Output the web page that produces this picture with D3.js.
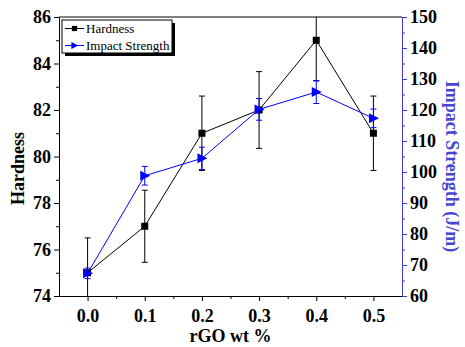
<!DOCTYPE html>
<html>
<head>
<meta charset="utf-8">
<script src="https://cdn.jsdelivr.net/npm/d3@7"></script>
<style>
  body { margin: 0; background: #fff; }
  svg text { font-family: 'Liberation Serif', 'Times New Roman', 'DejaVu Serif', serif; }
</style>
</head>
<body>
<svg id="chart" width="465" height="347"></svg>
<script>
const rgo = [0.0, 0.1, 0.2, 0.3, 0.4, 0.5];
const hardness = [75, 77, 81, 82, 85, 81];
const hardnessErr = [1.5, 1.55, 1.6, 1.65, 1.75, 1.6];
const impact = [67.3, 98.8, 104.4, 120.2, 125.8, 117.3];
const impactErr = [1.7, 3, 3.6, 3.5, 3.7, 3];
const xTicks = [0.0, 0.1, 0.2, 0.3, 0.4, 0.5];
const hTicks = [74, 76, 78, 80, 82, 84, 86];
const iTicks = [60, 70, 80, 90, 100, 110, 120, 130, 140, 150];

const BLUE = '#0000ff';
const BLUE_AXIS = '#3c3cdc';
const BLUE_TITLE = '#4646d2';

const margin = { top: 17, right: 63, bottom: 51, left: 59 };
const W = 465, H = 347;
const w = W - margin.left - margin.right;
const h = H - margin.top - margin.bottom;

const svg = d3.select('#chart');
const g = svg.append('g').attr('transform', `translate(${margin.left},${margin.top})`);

const x = d3.scaleLinear().domain([-0.05, 0.55]).range([0, w]);
const yH = d3.scaleLinear().domain([74, 86]).range([h, 0]);
const yI = d3.scaleLinear().domain([60, 150]).range([h, 0]);

g.append('clipPath').attr('id', 'clip')
  .append('rect').attr('width', w).attr('height', h);

// frame top line
g.append('line').attr('x1', 0).attr('x2', w).attr('y1', 0).attr('y2', 0)
  .attr('stroke', '#000').attr('stroke-width', 1);

// x axis
const xAxis = g.append('g').attr('transform', `translate(0,${h})`)
  .call(d3.axisBottom(x).tickValues(xTicks).tickFormat(d3.format('.1f')).tickSize(5).tickSizeOuter(0));
g.append('g').attr('transform', `translate(0,${h})`)
  .call(d3.axisBottom(x).tickValues([0.05, 0.15, 0.25, 0.35, 0.45]).tickFormat('').tickSize(3).tickSizeOuter(0))
  .select('.domain').remove();

// left axis
const yAxisL = g.append('g')
  .call(d3.axisLeft(yH).tickValues(hTicks).tickSize(5).tickSizeOuter(0));
g.append('g')
  .call(d3.axisLeft(yH).tickValues([75, 77, 79, 81, 83, 85]).tickFormat('').tickSize(3).tickSizeOuter(0))
  .select('.domain').remove();

// right axis
const yAxisR = g.append('g').attr('transform', `translate(${w},0)`)
  .call(d3.axisRight(yI).tickValues(iTicks).tickSize(5).tickSizeOuter(0));
g.append('g').attr('transform', `translate(${w},0)`)
  .call(d3.axisRight(yI).tickValues([65, 75, 85, 95, 105, 115, 125, 135, 145]).tickFormat('').tickSize(3).tickSizeOuter(0))
  .call(a => a.select('.domain').remove())
  .selectAll('line').attr('stroke', BLUE_AXIS);

[xAxis, yAxisL, yAxisR].forEach(a => {
  a.selectAll('text').attr('font-size', 18).attr('font-weight', 'bold').attr('fill', '#000');
});
xAxis.selectAll('text').attr('dy', '1.0em');
yAxisR.select('.domain').attr('stroke', BLUE_AXIS);
yAxisR.selectAll('.tick line').attr('stroke', BLUE_AXIS);

// axis titles
svg.append('text')
  .attr('transform', `translate(24,${margin.top + h / 2 + 12}) rotate(-90)`)
  .attr('text-anchor', 'middle').attr('font-size', 18).attr('font-weight', 'bold')
  .text('Hardness');
svg.append('text')
  .attr('x', margin.left + w / 2).attr('y', 342)
  .attr('text-anchor', 'middle').attr('font-size', 18).attr('font-weight', 'bold')
  .text('rGO wt %');
svg.append('text')
  .attr('transform', `translate(446,${margin.top + h / 2 + 10}) rotate(90)`)
  .attr('text-anchor', 'middle').attr('font-size', 18).attr('font-weight', 'bold')
  .attr('fill', BLUE_TITLE)
  .text('Impact Strength (J/m)');

const plot = g.append('g').attr('clip-path', 'url(#clip)');

function drawSeries(vals, errs, y, color, marker) {
  const pts = rgo.map((d, i) => ({ x: d, y: vals[i], e: errs[i] }));
  const eb = plot.append('g');
  pts.forEach(p => {
    const cx = x(p.x);
    eb.append('line').attr('x1', cx).attr('x2', cx)
      .attr('y1', y(p.y - p.e)).attr('y2', y(p.y + p.e))
      .attr('stroke', color).attr('stroke-width', 1);
    [p.y - p.e, p.y + p.e].forEach(v => {
      eb.append('line').attr('x1', cx - 3).attr('x2', cx + 3)
        .attr('y1', y(v)).attr('y2', y(v))
        .attr('stroke', color).attr('stroke-width', 1);
    });
  });
  plot.append('path').datum(pts)
    .attr('fill', 'none').attr('stroke', color).attr('stroke-width', 1)
    .attr('d', d3.line().x(d => x(d.x)).y(d => y(d.y)));
  pts.forEach(p => marker(plot, x(p.x), y(p.y), color));
}

const square = (sel, cx, cy, c) => sel.append('rect')
  .attr('x', cx - 3.5).attr('y', cy - 3.5).attr('width', 7).attr('height', 7).attr('fill', c);
const triRight = (sel, cx, cy, c) => sel.append('path')
  .attr('d', `M${cx - 4.5},${cy - 5}L${cx + 5.5},${cy}L${cx - 4.5},${cy + 5}Z`).attr('fill', c);

drawSeries(hardness, hardnessErr, yH, '#000', square);
drawSeries(impact, impactErr, yI, BLUE, triRight);

// legend
const leg = g.append('g').attr('transform', 'translate(3,3)');
leg.append('rect').attr('x', 3).attr('y', 3).attr('width', 110).attr('height', 33).attr('fill', '#000');
leg.append('rect').attr('x', 0).attr('y', 0).attr('width', 110).attr('height', 33)
  .attr('fill', '#fff').attr('stroke', '#000').attr('stroke-width', 1);
const items = [
  { name: 'Hardness', color: '#000', marker: square, small: 0.75 },
  { name: 'Impact Strength', color: BLUE, marker: triRight, small: 0.7 }
];
items.forEach((it, i) => {
  const yy = 8.5 + i * 17;
  leg.append('line').attr('x1', 3).attr('x2', 22).attr('y1', yy).attr('y2', yy)
    .attr('stroke', it.color).attr('stroke-width', 1);
  const m = it.marker(leg, 12.5, yy, it.color);
  m.attr('transform', `translate(12.5,${yy}) scale(${it.small}) translate(-12.5,${-yy})`);
  leg.append('text').attr('x', 24).attr('y', yy + 4.5)
    .attr('font-size', 13).attr('fill', '#000').text(it.name);
});
</script>
</body>
</html>
